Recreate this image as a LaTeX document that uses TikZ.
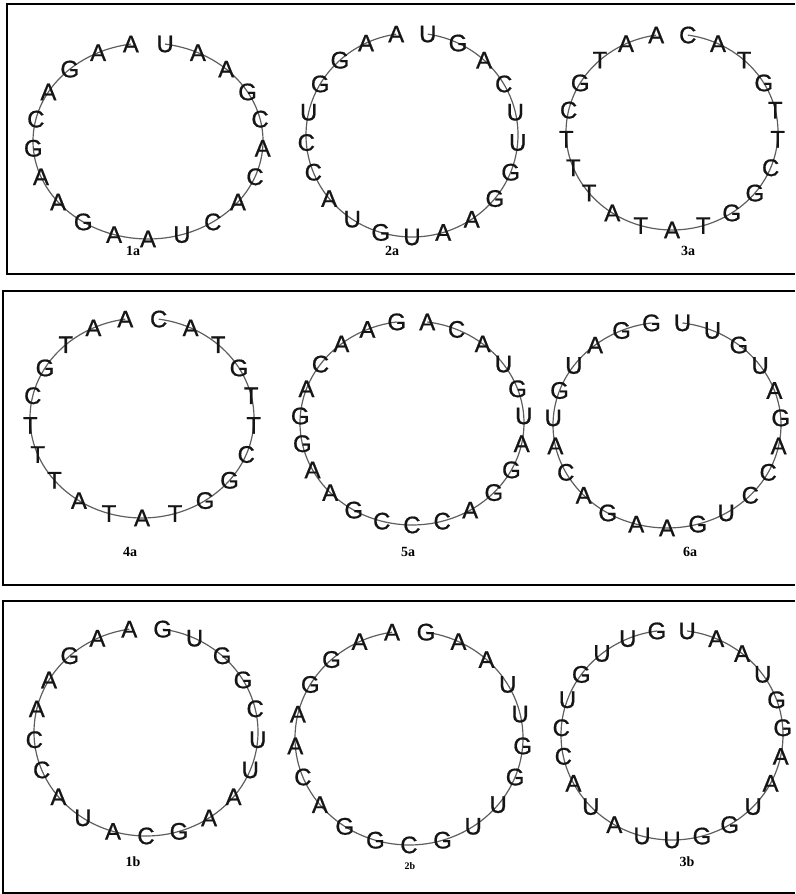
\documentclass[tikz,border=0pt]{standalone}
\usepackage{fontspec}
\setmainfont{Liberation Serif}
\setsansfont{Liberation Sans}
\newfontfamily\basefont{Liberation Sans}[FakeBold=0.7]
\usepackage{xcolor}
\usepackage{tikz}
\usetikzlibrary{positioning, calc}
\definecolor{ringgray}{HTML}{5E5E5E}
\definecolor{basedark}{HTML}{151515}

% one circular loop: name, centre x, centre y, x radius, y radius, count, bases
\newcommand{\basering}[7]{%
  \pgfmathsetmacro{\gapang}{360/#6}%
  \pgfmathsetmacro{\fromang}{90-\gapang/2}%
  \pgfmathsetmacro{\toang}{-270+\gapang/2}%
  \draw[ringline] ([shift={(#2,#3)}] \fromang:#4pt and #5pt)
    arc[start angle=\fromang, end angle=\toang, x radius=#4pt, y radius=#5pt];%
  \foreach \b [count=\i] in {#7}{%
    \pgfmathsetmacro{\bang}{90-\gapang*(\i-0.5)}%
    \node[base] (#1-\i) at ([shift={(#2,#3)}] \bang:#4pt and #5pt) {\b};}%
}

\begin{document}
\begin{tikzpicture}[x=1pt, y=1pt,
    panel/.style={draw=black, line width=1.2pt},
    ringline/.style={draw=ringgray, line width=1.2pt},
    base/.style={font=\basefont\fontsize{24}{24}\selectfont, text=basedark, inner sep=0pt},
    tag/.style={font=\bfseries\fontsize{14}{14}\selectfont, inner sep=0pt}]

  \useasboundingbox (0,0) rectangle (795,894);

  % frames
  \draw[panel] (795,890) -- (7,890) -- (7,620) -- (795,620);
  \draw[panel] (795,603) -- (3,603) -- (3,309) -- (795,309);
  \draw[panel] (795,293) -- (3,293) -- (3,1) -- (795,1);

  % top row
  \basering{r1a}{148}{753}{115}{98}{21}{U,A,A,G,C,A,C,A,C,U,A,A,G,A,A,G,C,A,G,A,A}
  \basering{r2a}{412}{759}{106}{102}{21}{U,G,A,C,U,U,G,G,A,A,U,G,U,A,C,C,U,G,G,A,A}
  \basering{r3a}{672}{762}{106}{98}{21}{C,A,T,G,T,T,C,G,G,T,A,T,A,T,T,T,C,G,T,A,A}
  \node[tag] (lab1a) at (133,643) {1a};
  \node[tag] (lab2a) at (392,643) {2a};
  \node[tag] (lab3a) at (688,643) {3a};

  % middle row
  \basering{r4a}{142}{476}{112}{100}{21}{C,A,T,G,T,T,C,G,G,T,A,T,A,T,T,T,C,G,T,A,A}
  \basering{r5a}{412}{471}{112}{102}{23}{A,C,A,U,G,U,A,G,G,A,C,C,C,G,A,A,G,G,A,C,A,A,G}
  \basering{r6a}{667}{469}{114}{103}{23}{U,U,G,U,A,G,A,C,C,U,G,A,A,G,A,C,A,U,G,U,A,G,G}
  \node[tag] (lab4a) at (130,342) {4a};
  \node[tag] (lab5a) at (408,342) {5a};
  \node[tag] (lab6a) at (690,342) {6a};

  % bottom row
  \basering{r1b}{146}{162}{112}{104}{21}{G,U,G,G,C,U,U,A,A,G,C,A,U,A,C,C,A,A,G,A,A}
  \basering{r2b}{409}{156}{114}{107}{21}{G,A,A,U,U,G,G,U,U,G,C,G,G,A,C,A,A,G,G,A,A}
  \basering{r3b}{672}{159}{111}{105}{23}{U,A,A,U,G,G,A,A,U,G,G,U,U,A,U,A,C,C,U,G,U,U,G}
  \node[tag] (lab1b) at (133,32) {1b};
  \node[tag, font=\bfseries\fontsize{10}{10}\selectfont] (lab2b) at (410,28) {2b};
  \node[tag] (lab3b) at (687,32) {3b};
\end{tikzpicture}
\end{document}
